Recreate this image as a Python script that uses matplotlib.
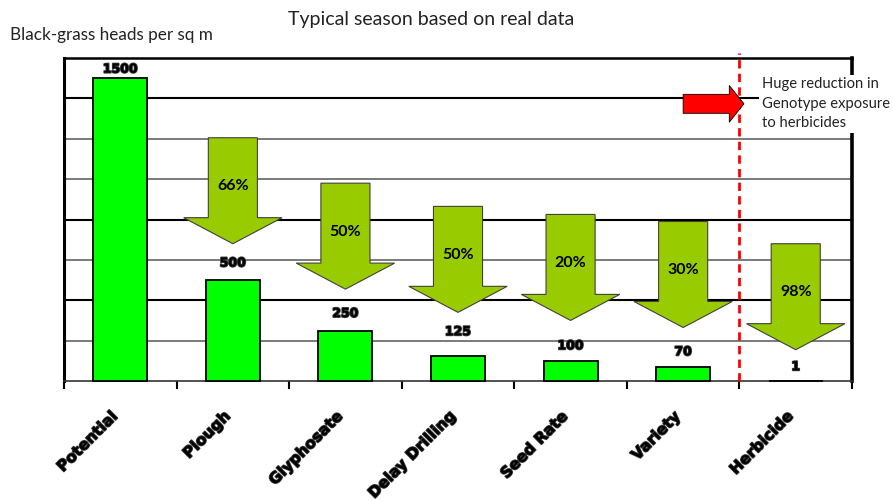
import matplotlib
matplotlib.use("Agg")
import matplotlib.pyplot as plt
import matplotlib.patheffects as pe
from matplotlib.patches import Polygon
import numpy as np

# black-grass heads per sq m remaining after each control step
STAGES = ["Potential", "Plough", "Glyphosate", "Delay Drilling", "Seed Rate", "Variety", "Herbicide"]
HEADS = [1500, 500, 250, 125, 100, 70, 1]
REDUCTIONS = ["66%", "50%", "50%", "20%", "30%", "98%"]
ARROW_TIPS = [680, 455, 340, 300, 265, 155]
GRID_LEVELS = [200, 400, 600, 800, 1000, 1200, 1400]

# styling
BAR_GREEN = "#00FF00"
ARROW_GREEN = "#99CC00"
DARK_GRID = {400, 800, 1400}
LABEL_LIFT = [9, 17, 17, 24, 15, 15, 14]  # px above bar top
ARROW_LEN, HEAD_LEN = 525, 129
SHAFT_HALF, HEAD_HALF = 0.218, 0.437
SANS = ["Lato", "DejaVu Sans"]

plt.rcParams["font.family"] = SANS

fig = plt.figure(figsize=(8.93, 5.01), dpi=100)
ax = fig.add_axes([64 / 893, 120 / 501, 788 / 893, 323 / 501])
ax.set_xlim(-0.5, len(STAGES) - 0.5)
ax.set_ylim(0, 1600)

for level in GRID_LEVELS:
    dark = level in DARK_GRID
    ax.axhline(level, color="#000000" if dark else "#707070", lw=1.5 if dark else 1.3, zorder=1)

x = np.arange(len(STAGES))
bars = ax.bar(x, HEADS, width=0.48, color=BAR_GREEN, edgecolor="black", linewidth=1.3, zorder=3)
for b in bars:
    b.set_clip_on(False)

bold_fx = [pe.withStroke(linewidth=1.3, foreground="#3a3a3a")]
for xi, h, lift in zip(x, HEADS, LABEL_LIFT):
    ax.annotate(str(h), (xi, h), xytext=(0, lift), textcoords="offset pixels",
                ha="center", va="center", fontsize=9, fontweight="bold",
                family="DejaVu Sans", color="black", path_effects=bold_fx, zorder=5)

# reduction arrows between the steps
for i, (tip, pct) in enumerate(zip(ARROW_TIPS, REDUCTIONS), start=1):
    top, neck = tip + ARROW_LEN, tip + HEAD_LEN
    pts = [(i - SHAFT_HALF, top), (i + SHAFT_HALF, top), (i + SHAFT_HALF, neck),
           (i + HEAD_HALF, neck), (i, tip), (i - HEAD_HALF, neck), (i - SHAFT_HALF, neck)]
    ax.add_patch(Polygon(pts, closed=True, facecolor=ARROW_GREEN, edgecolor="#404040",
                         linewidth=0.8, zorder=3.5))
    ax.text(i, tip + 285, pct, ha="center", va="center", fontsize=11.5,
            fontweight="bold", color="black", zorder=4)

# herbicide cut-off marker
ax.plot([5.5, 5.5], [0, 1625], color="red", lw=2.0, dashes=(3, 1.9), clip_on=False, zorder=4)
red_arrow = [(5.0, 1373 - 47), (5.0, 1373 + 47), (5.41, 1373 + 47), (5.41, 1373 + 91),
             (5.54, 1373), (5.41, 1373 - 91), (5.41, 1373 - 47)]
ax.add_patch(Polygon(red_arrow, closed=True, facecolor="red", edgecolor="black",
                     linewidth=0.6, zorder=5))
ax.text(5.70, 1373, "Huge reduction in\nGenotype exposure\nto herbicides", ha="left",
        va="center", fontsize=10.6, linespacing=1.5, color="#222222", zorder=6,
        bbox=dict(facecolor="white", edgecolor="none", pad=2))

# frame
for side in ("left", "top", "right", "bottom"):
    ax.spines[side].set_color("black")
ax.spines["left"].set_linewidth(2.2)
ax.spines["top"].set_linewidth(1.8)
ax.spines["right"].set_linewidth(2.6)
ax.spines["bottom"].set_linewidth(1.2)
ax.spines["bottom"].set_color("#333333")
ax.set_yticks([])

ax.set_xticks(x)
ax.set_xticks(np.arange(-0.5, len(STAGES)), minor=True)
ax.tick_params(axis="x", which="major", length=0, pad=20)
ax.tick_params(axis="x", which="minor", length=6, width=1.5, direction="out")
ax.set_xticklabels(STAGES, rotation=45, ha="right", va="top", fontsize=11,
                   fontweight="bold", family="DejaVu Sans")
for lab in ax.get_xticklabels():
    lab.set_path_effects([pe.withStroke(linewidth=1.2, foreground="#3a3a3a")])

fig.text(431 / 893, 1 - 20 / 501, "Typical season based on real data", ha="center",
         va="center", fontsize=14, color="#222222")
fig.text(10 / 893, 1 - 35 / 501, "Black-grass heads per sq m", ha="left", va="center",
         fontsize=12.3, color="#222222")

fig.savefig("out.png", dpi=100)
